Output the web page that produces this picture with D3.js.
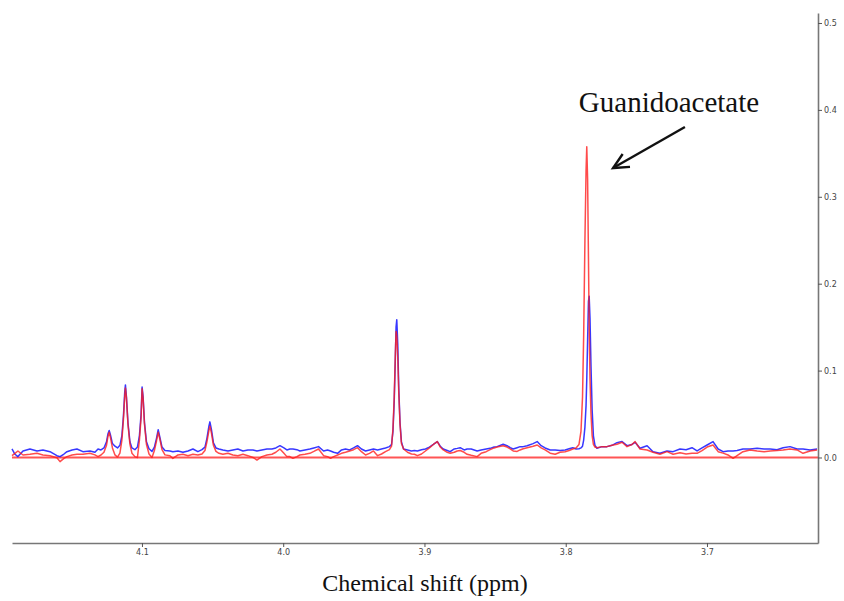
<!DOCTYPE html>
<html>
<head>
<meta charset="utf-8">
<script src="https://cdn.jsdelivr.net/npm/d3@7"></script>
<style>
  html, body { margin: 0; padding: 0; background: #fff; }
  svg { display: block; }
</style>
</head>
<body>
<svg id="chart" width="844" height="601"></svg>
<script>
// ---- data ----
const ppm = [
  4.1920, 4.1899, 4.1878, 4.1842, 4.1793, 4.1743, 4.1701, 4.1651, 4.1602, 4.1580,
  4.1552, 4.1531, 4.1495, 4.1460, 4.1418, 4.1368, 4.1333, 4.1311, 4.1290,
  4.1269, 4.1251, 4.1241, 4.1232, 4.1223, 4.1209, 4.1191, 4.1173,
  4.1156, 4.1142, 4.1131, 4.1122, 4.1117, 4.1110, 4.1099, 4.1085, 4.1071, 4.1050, 4.1032, 4.1018,
  4.1006, 4.0999, 4.0992, 4.0982, 4.0968, 4.0950, 4.0929, 4.0912,
  4.0897, 4.0885, 4.0873, 4.0858, 4.0837, 4.0802, 4.0781, 4.0745, 4.0710, 4.0674, 4.0639, 4.0604, 4.0575,
  4.0554, 4.0540, 4.0526, 4.0519, 4.0508, 4.0494, 4.0476, 4.0455, 4.0427, 4.0391, 4.0356, 4.0321,
  4.0285, 4.0250, 4.0214, 4.0186, 4.0151, 4.0115, 4.0080, 4.0052, 4.0023, 3.9995, 3.9974, 3.9953,
  3.9931, 3.9903, 3.9882, 3.9846, 3.9811, 3.9783, 3.9750, 3.9714, 3.9686, 3.9665, 3.9643, 3.9615,
  3.9587, 3.9559, 3.9530, 3.9502, 3.9474, 3.9446, 3.9417, 3.9389, 3.9361, 3.9332, 3.9304, 3.9276, 3.9248,
  3.9233, 3.9223, 3.9214, 3.9206, 3.9201, 3.9196, 3.9189, 3.9182, 3.9173, 3.9163,
  3.9148, 3.9120, 3.9092, 3.9071, 3.9050, 3.9021, 3.8993, 3.8965, 3.8937, 3.8909, 3.8888, 3.8867,
  3.8839, 3.8818, 3.8789, 3.8768, 3.8747, 3.8719, 3.8698, 3.8669, 3.8627, 3.8599, 3.8563, 3.8535,
  3.8507, 3.8486, 3.8443, 3.8415, 3.8393, 3.8372, 3.8344, 3.8323, 3.8301, 3.8273, 3.8231, 3.8202,
  3.8174, 3.8146, 3.8110, 3.8075, 3.8040, 3.8004, 3.7976, 3.7950, 3.7927,
  3.7906, 3.7892, 3.7881, 3.7873, 3.7864, 3.7856, 3.7851, 3.7845, 3.7839, 3.7834, 3.7828, 3.7821,
  3.7813, 3.7804, 3.7793, 3.7779, 3.7743, 3.7708, 3.7672, 3.7637, 3.7601, 3.7566, 3.7531, 3.7509,
  3.7474, 3.7424, 3.7382, 3.7333, 3.7283, 3.7240, 3.7191, 3.7148, 3.7106, 3.7070, 3.7035, 3.6999,
  3.6957, 3.6921, 3.6886, 3.6851, 3.6815, 3.6787, 3.6745, 3.6695, 3.6645, 3.6596, 3.6553, 3.6504,
  3.6461, 3.6412, 3.6362, 3.6320, 3.6270, 3.6221
];
const blueSpectrum = [
  0.0098, 0.0037, 0.0010, 0.0075, 0.0098, 0.0075, 0.0087, 0.0067, 0.0021, 0.0010,
  0.0040, 0.0067, 0.0087, 0.0098, 0.0067, 0.0075, 0.0060, 0.0098, 0.0087,
  0.0110, 0.0180, 0.0270, 0.0310, 0.0260, 0.0160, 0.0130, 0.0110,
  0.0140, 0.0250, 0.0480, 0.0750, 0.0835, 0.0700, 0.0400, 0.0180, 0.0110, 0.0090, 0.0120, 0.0250,
  0.0500, 0.0810, 0.0700, 0.0400, 0.0180, 0.0100, 0.0070, 0.0120,
  0.0220, 0.0320, 0.0230, 0.0120, 0.0080, 0.0075, 0.0067, 0.0075, 0.0060, 0.0075, 0.0098, 0.0067, 0.0090,
  0.0120, 0.0220, 0.0360, 0.0410, 0.0320, 0.0170, 0.0110, 0.0098, 0.0087, 0.0075, 0.0087, 0.0098,
  0.0075, 0.0087, 0.0087, 0.0075, 0.0087, 0.0098, 0.0098, 0.0110, 0.0136, 0.0110, 0.0087, 0.0098,
  0.0098, 0.0090, 0.0075, 0.0087, 0.0098, 0.0110, 0.0125, 0.0075, 0.0087, 0.0075, 0.0060, 0.0048,
  0.0087, 0.0098, 0.0087, 0.0110, 0.0136, 0.0098, 0.0075, 0.0087, 0.0098, 0.0087, 0.0098, 0.0110, 0.0125,
  0.0150, 0.0300, 0.0650, 0.1150, 0.1500, 0.1586, 0.1300, 0.0800, 0.0400, 0.0180,
  0.0098, 0.0087, 0.0075, 0.0080, 0.0075, 0.0090, 0.0098, 0.0120, 0.0150, 0.0183, 0.0130, 0.0098,
  0.0080, 0.0067, 0.0098, 0.0105, 0.0113, 0.0087, 0.0098, 0.0098, 0.0075, 0.0087, 0.0098, 0.0105,
  0.0120, 0.0125, 0.0152, 0.0136, 0.0113, 0.0098, 0.0113, 0.0125, 0.0125, 0.0136, 0.0160, 0.0183,
  0.0136, 0.0110, 0.0087, 0.0087, 0.0080, 0.0087, 0.0100, 0.0113, 0.0098,
  0.0100, 0.0110, 0.0130, 0.0200, 0.0350, 0.0600, 0.0900, 0.1350, 0.1800, 0.1855, 0.1600, 0.1050,
  0.0550, 0.0250, 0.0140, 0.0106, 0.0125, 0.0125, 0.0140, 0.0171, 0.0183, 0.0136, 0.0150, 0.0175,
  0.0106, 0.0136, 0.0067, 0.0048, 0.0075, 0.0067, 0.0098, 0.0090, 0.0113, 0.0075, 0.0110, 0.0144,
  0.0183, 0.0098, 0.0067, 0.0075, 0.0075, 0.0080, 0.0098, 0.0098, 0.0106, 0.0098, 0.0098, 0.0090,
  0.0113, 0.0125, 0.0098, 0.0098, 0.0087, 0.0098
];
const redSpectrum = [
  0.0021, 0.0048, 0.0075, 0.0029, 0.0037, 0.0048, 0.0029, 0.0021, -0.0002, -0.0048,
  -0.0010, 0.0010, 0.0029, 0.0037, 0.0037, 0.0048, 0.0030, 0.0010, 0.0029,
  0.0060, 0.0140, 0.0240, 0.0290, 0.0230, 0.0110, 0.0030, 0.0005,
  0.0050, 0.0200, 0.0440, 0.0700, 0.0800, 0.0690, 0.0380, 0.0150, 0.0050, 0.0010, 0.0000, 0.0200,
  0.0460, 0.0790, 0.0680, 0.0380, 0.0150, 0.0040, 0.0000, 0.0080,
  0.0190, 0.0290, 0.0210, 0.0090, 0.0030, 0.0020, -0.0010, 0.0029, 0.0037, 0.0021, 0.0037, 0.0029, 0.0040,
  0.0080, 0.0180, 0.0310, 0.0360, 0.0280, 0.0140, 0.0070, 0.0048, 0.0037, 0.0048, 0.0029, 0.0021,
  0.0037, 0.0021, 0.0000, -0.0029, 0.0010, 0.0029, 0.0037, 0.0060, 0.0098, 0.0050, 0.0010, 0.0010,
  -0.0010, 0.0010, 0.0029, 0.0037, 0.0048, 0.0070, 0.0098, 0.0021, 0.0010, -0.0010, 0.0010, 0.0029,
  0.0048, 0.0060, 0.0075, 0.0090, 0.0113, 0.0067, 0.0029, 0.0048, 0.0075, 0.0021, 0.0040, 0.0067, 0.0090,
  0.0130, 0.0330, 0.0700, 0.1200, 0.1450, 0.1400, 0.1150, 0.0750, 0.0380, 0.0160,
  0.0098, 0.0060, 0.0040, 0.0037, 0.0021, 0.0040, 0.0075, 0.0110, 0.0150, 0.0183, 0.0120, 0.0087,
  0.0060, 0.0048, 0.0060, 0.0075, 0.0080, 0.0060, 0.0037, 0.0025, 0.0010, 0.0048, 0.0067, 0.0090,
  0.0110, 0.0120, 0.0136, 0.0120, 0.0098, 0.0075, 0.0070, 0.0087, 0.0100, 0.0113, 0.0130, 0.0144,
  0.0110, 0.0087, 0.0050, 0.0037, 0.0060, 0.0067, 0.0080, 0.0098, 0.0110,
  0.0150, 0.0300, 0.0700, 0.1400, 0.2500, 0.3300, 0.3575, 0.3200, 0.2300, 0.1500, 0.0900, 0.0500,
  0.0250, 0.0150, 0.0120, 0.0113, 0.0125, 0.0125, 0.0140, 0.0152, 0.0175, 0.0125, 0.0150, 0.0183,
  0.0098, 0.0087, 0.0060, 0.0037, 0.0067, 0.0037, 0.0055, 0.0040, 0.0048, 0.0048, 0.0080, 0.0120,
  0.0144, 0.0067, 0.0050, 0.0029, -0.0010, 0.0021, 0.0067, 0.0087, 0.0075, 0.0067, 0.0075, 0.0080,
  0.0087, 0.0098, 0.0087, 0.0048, 0.0075, 0.0087
];
const baselineValue = 0;
const xTicks = [4.1, 4.0, 3.9, 3.8, 3.7];
const yTicks = [0.0, 0.1, 0.2, 0.3, 0.4, 0.5];
const xDomain = [4.192, 3.6214];
const yDomain = [-0.0984, 0.5115];
const xTitle = "Chemical shift (ppm)";
const annotationText = "Guanidoacetate";
const annotationTarget = [3.7665, 0.3331];   // arrow head position (ppm, intensity)
const annotationTail = [3.7156, 0.3803];     // arrow tail position (ppm, intensity)

// ---- drawing ----
const svg = d3.select("#chart");
const plot = { left: 12, right: 818, top: 13, bottom: 543 };

const x = d3.scaleLinear().domain(xDomain).range([plot.left, plot.right]);
const y = d3.scaleLinear().domain(yDomain).range([plot.bottom, plot.top]);

// zero baseline (red)
svg.append("line")
  .attr("x1", x(xDomain[0])).attr("x2", x(xDomain[1]))
  .attr("y1", y(baselineValue)).attr("y2", y(baselineValue))
  .attr("stroke", "#ff5555").attr("stroke-width", 2);

const pts = (vals) => ppm.map((p, i) => [p, vals[i]]);
const line = d3.line().x(d => x(d[0])).y(d => y(d[1]));

svg.append("path").datum(pts(blueSpectrum))
  .attr("d", line).attr("fill", "none")
  .attr("stroke", "rgba(20,20,255,0.85)").attr("stroke-width", 1.5)
  .attr("stroke-linejoin", "round");

svg.append("path").datum(pts(redSpectrum))
  .attr("d", line).attr("fill", "none")
  .attr("stroke", "rgba(255,30,30,0.8)").attr("stroke-width", 1.5)
  .attr("stroke-linejoin", "round");

// axes
const axisColor = "#777";
const xAxis = d3.axisBottom(x).tickValues(xTicks).tickFormat(d3.format(".1f"))
  .tickSize(4).tickSizeOuter(0).tickPadding(2);
const gx = svg.append("g").attr("transform", `translate(0,${plot.bottom})`).call(xAxis);

const yAxis = d3.axisRight(y).tickValues(yTicks).tickFormat(d3.format(".1f"))
  .tickSize(4).tickSizeOuter(0).tickPadding(2);
const gy = svg.append("g").attr("transform", `translate(${plot.right},0)`).call(yAxis);

[gx, gy].forEach(g => {
  g.select(".domain").attr("stroke", axisColor).attr("stroke-width", 1.6);
  g.selectAll(".tick line").attr("stroke", "#555").attr("stroke-width", 1);
  g.selectAll(".tick text").attr("fill", "#444")
    .style("font-family", "'DejaVu Sans', Verdana, sans-serif").style("font-size", "8px");
});

// x axis title
svg.append("text")
  .attr("x", 425).attr("y", 591)
  .attr("text-anchor", "middle")
  .style("font-family", "'Liberation Serif', 'Times New Roman', serif")
  .style("font-size", "24px").attr("fill", "#111")
  .text(xTitle);

// annotation
svg.append("text")
  .attr("x", 669).attr("y", 112)
  .attr("text-anchor", "middle")
  .style("font-family", "'Liberation Serif', 'Times New Roman', serif")
  .style("font-size", "29px").attr("fill", "#111")
  .text(annotationText);

const ax1 = x(annotationTail[0]), ay1 = y(annotationTail[1]);
const ax2 = x(annotationTarget[0]), ay2 = y(annotationTarget[1]);
svg.append("line")
  .attr("x1", ax1).attr("y1", ay1).attr("x2", ax2).attr("y2", ay2)
  .attr("stroke", "#111").attr("stroke-width", 2.4);
const ang = Math.atan2(ay2 - ay1, ax2 - ax1);
const headLen = 17, spread = 0.45;
const head = [
  [ax2 - headLen * Math.cos(ang - spread), ay2 - headLen * Math.sin(ang - spread)],
  [ax2, ay2],
  [ax2 - headLen * Math.cos(ang + spread), ay2 - headLen * Math.sin(ang + spread)]
];
svg.append("path").attr("d", d3.line()(head))
  .attr("fill", "none").attr("stroke", "#111").attr("stroke-width", 2.4)
  .attr("stroke-linejoin", "miter");
</script>
</body>
</html>
